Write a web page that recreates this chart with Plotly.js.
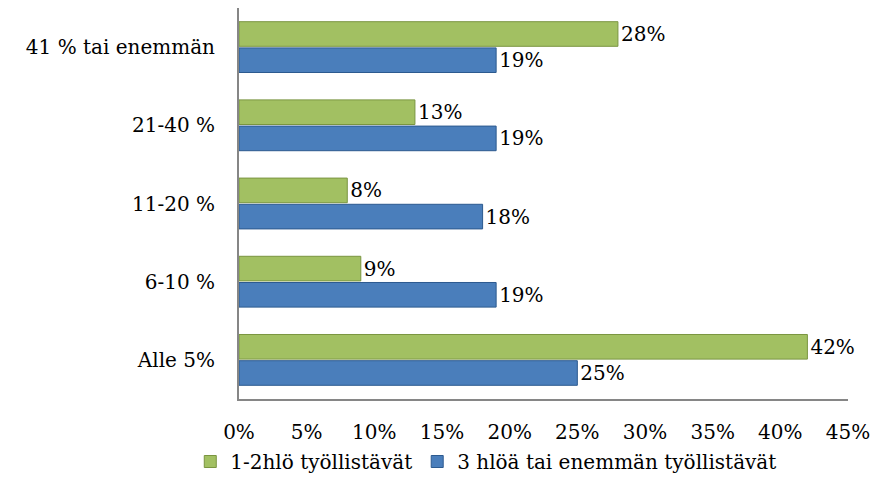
<!DOCTYPE html>
<html>
<head>
<meta charset="utf-8">
<script src="https://cdn.plot.ly/plotly-3.0.1.min.js"></script>
<style>html,body{margin:0;padding:0;background:#fff;}#chart{width:871px;height:496px;}</style>
</head>
<body>
<div id="chart"></div>
<script>
const categories = ["Alle 5%", "6-10 %", "11-20 %", "21-40 %", "41 % tai enemmän"];
const seriesNames = ["1-2hlö työllistävät", "3 hlöä tai enemmän työllistävät"];
const small = [42, 9, 8, 13, 28];   // 1-2hlö työllistävät
const large = [25, 19, 18, 19, 19]; // 3 hlöä tai enemmän työllistävät
const tickVals = [0, 5, 10, 15, 20, 25, 30, 35, 40, 45];
const tickLabels = ["0%", "5%", "10%", "15%", "20%", "25%", "30%", "35%", "40%", "45%"];

const font = {family: "DejaVu Serif, serif", size: 20, color: "#000"};

const traces = [
  {
    type: "bar", orientation: "h", name: seriesNames[1],
    y: categories, x: large,
    text: large.map(v => v + "%"), texttemplate: "%{text}",
    marker: {color: "#4A7EBB", line: {color: "#2C5A8F", width: 1}},
    textposition: "outside", cliponaxis: false,
    constraintext: "none", textfont: font, hoverinfo: "skip"
  },
  {
    type: "bar", orientation: "h", name: seriesNames[0],
    y: categories, x: small,
    text: small.map(v => v + "%"), texttemplate: "%{text}",
    marker: {color: "#A2C062", line: {color: "#7A9540", width: 1}},
    textposition: "outside", cliponaxis: false,
    constraintext: "none", textfont: font, hoverinfo: "skip"
  }
];

const layout = {
  width: 871, height: 496,
  margin: {l: 239, r: 23, t: 8, b: 97},
  paper_bgcolor: "#fff", plot_bgcolor: "#fff",
  font: font,
  barmode: "group", bargap: 0.33, bargroupgap: 0.06,
  showlegend: true,
  legend: {
    orientation: "h", traceorder: "reversed",
    x: -0.08, xanchor: "left", y: -0.11, yanchor: "top",
    font: font
  },
  xaxis: {
    range: [0, 45], tickvals: tickVals, ticktext: tickLabels,
    showgrid: false, zeroline: false, showline: true,
    linecolor: "#868686", linewidth: 2, ticks: "",
    ticklabelstandoff: 14, tickfont: font, fixedrange: true
  },
  yaxis: {
    type: "category", categoryorder: "array", categoryarray: categories,
    showgrid: false, zeroline: false, showline: true,
    linecolor: "#868686", linewidth: 2, ticks: "",
    ticklabelstandoff: 18, tickfont: font, fixedrange: true
  }
};

Plotly.newPlot("chart", traces, layout, {displayModeBar: false, staticPlot: true});
</script>
</body>
</html>
